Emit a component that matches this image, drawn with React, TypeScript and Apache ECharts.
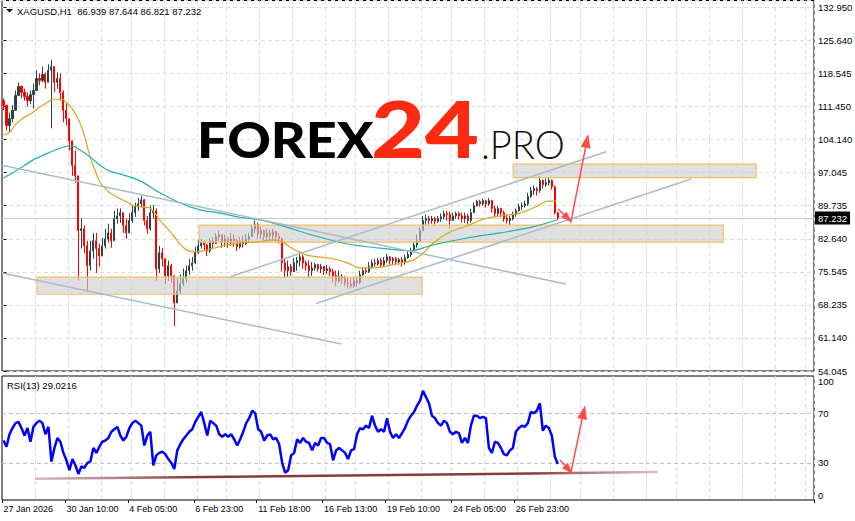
import React, { useEffect, useRef } from "react";
import * as echarts from "echarts";

// ---------- data ----------
const firstOpen = 112.7;
const closes = [
  111.7, 107.3, 108.8, 110.6, 113.8, 115.8, 114.5, 113.6, 112.7, 114.0,
  114.9, 117.5, 117.1, 118.4, 116.7, 119.3, 120.1, 116.7, 117.5, 114.5,
  110.6, 108.8, 104.0, 98.6, 96.4, 84.5, 84.9, 81.2, 76.9, 80.1,
  82.3, 80.6, 79.0, 81.2, 82.7, 84.0, 82.3, 87.1, 87.7, 88.4,
  85.6, 84.0, 86.7, 88.4, 89.7, 90.3, 91.2, 86.7, 84.9, 88.4,
  88.8, 76.2, 79.7, 78.4, 74.7, 76.9, 74.7, 68.8, 71.4, 73.0,
  74.1, 75.8, 76.9, 77.5, 79.7, 81.2, 81.9, 81.4, 80.1, 82.3,
  81.7, 83.2, 83.6, 81.9, 82.7, 81.9, 82.7, 82.3, 81.0, 82.3,
  81.7, 82.7, 83.2, 84.9, 85.8, 83.8, 84.5, 83.2, 84.0, 83.4,
  84.3, 83.2, 82.7, 77.5, 75.8, 76.7, 75.6, 77.5, 78.0, 78.8,
  77.5, 76.9, 75.8, 76.4, 77.1, 76.2, 76.7, 75.8, 76.2, 75.6,
  74.7, 73.6, 74.5, 74.1, 73.2, 72.9, 72.5, 73.6, 73.2, 74.9,
  75.8, 75.6, 76.7, 77.5, 77.3, 78.0, 77.1, 78.0, 78.8, 78.0,
  78.4, 77.7, 78.2, 77.7, 78.6, 79.3, 80.1, 81.4, 82.3, 84.5,
  86.7, 87.1, 86.7, 87.1, 86.5, 87.1, 87.5, 88.2, 88.0, 86.7,
  87.7, 88.2, 87.7, 87.1, 87.7, 86.7, 88.4, 89.9, 90.8, 90.3,
  91.0, 90.3, 91.0, 89.3, 88.2, 89.3, 88.4, 87.1, 86.7, 87.1,
  88.0, 88.8, 89.7, 89.9, 90.3, 91.9, 93.2, 93.6, 93.2, 95.4,
  94.5, 94.9, 95.4, 94.0, 88.4, 87.232,
];
const highs = [
  113.2, 111.7, 110.1, 111.7, 114.9, 116.7, 116.0, 115.3, 114.5, 114.9,
  116.4, 119.3, 118.6, 120.1, 118.8, 120.6, 121.6, 118.8, 118.8, 118.6,
  114.9, 112.1, 106.7, 102.3, 101.9, 95.8, 87.1, 85.6, 82.3, 82.3,
  84.0, 84.0, 81.7, 82.9, 84.9, 86.0, 84.9, 88.8, 89.3, 89.3,
  87.7, 87.1, 88.2, 89.9, 90.6, 91.6, 92.1, 91.4, 87.7, 89.9,
  90.1, 89.3, 81.2, 80.8, 78.4, 78.0, 77.3, 74.7, 74.1, 75.0,
  76.3, 76.9, 78.4, 78.8, 81.0, 82.5, 82.7, 82.5, 81.6, 82.9,
  83.1, 84.0, 84.5, 83.6, 83.6, 83.1, 84.0, 83.6, 82.7, 83.1,
  83.4, 83.8, 84.0, 85.8, 86.7, 86.2, 85.3, 84.7, 84.9, 84.7,
  84.9, 84.5, 84.0, 83.0, 78.4, 78.0, 77.3, 78.6, 78.8, 79.9,
  79.3, 78.0, 78.0, 77.7, 77.5, 77.3, 77.3, 76.9, 77.1, 76.7,
  76.2, 75.8, 75.8, 75.1, 74.7, 74.3, 74.1, 74.3, 74.5, 75.8,
  76.4, 76.4, 77.7, 78.2, 78.4, 78.6, 78.6, 78.8, 79.5, 79.0,
  78.8, 78.8, 78.6, 78.8, 79.3, 80.1, 80.8, 82.1, 83.6, 85.3,
  87.7, 88.0, 87.7, 87.7, 87.5, 87.7, 88.2, 88.8, 88.8, 88.6,
  88.4, 88.6, 88.6, 88.4, 88.4, 88.2, 89.3, 90.6, 91.2, 91.2,
  91.4, 91.2, 91.6, 91.2, 89.9, 89.9, 89.5, 88.8, 88.0, 87.7,
  88.6, 89.3, 90.3, 90.6, 91.0, 92.7, 94.0, 94.3, 94.0, 96.4,
  95.6, 95.8, 96.0, 95.6, 94.3, 88.6,
];
const lows = [
  110.6, 106.2, 105.8, 108.0, 110.6, 113.8, 113.2, 112.7, 111.4, 111.9,
  111.0, 115.3, 116.0, 116.7, 115.3, 117.5, 106.7, 114.5, 115.3, 112.7,
  108.0, 107.3, 101.9, 96.4, 94.9, 73.6, 80.6, 79.6, 71.4, 75.8,
  78.4, 75.3, 76.7, 79.0, 80.6, 81.9, 80.8, 82.7, 86.0, 86.2,
  84.0, 82.7, 84.0, 86.2, 87.5, 88.8, 89.5, 85.6, 83.8, 84.5,
  87.1, 73.6, 75.3, 76.7, 72.9, 73.6, 73.2, 63.8, 69.3, 70.8,
  72.5, 73.2, 74.9, 75.8, 77.3, 79.5, 80.6, 80.1, 79.0, 79.7,
  80.6, 81.9, 82.3, 80.8, 81.0, 80.8, 81.2, 81.0, 80.1, 80.6,
  80.8, 81.4, 81.9, 83.2, 84.0, 82.7, 82.7, 82.3, 82.5, 82.3,
  82.3, 82.1, 81.7, 75.6, 74.3, 74.5, 74.7, 75.6, 75.8, 76.7,
  76.2, 75.8, 74.3, 74.7, 75.8, 75.6, 75.3, 74.9, 75.1, 74.7,
  73.2, 72.5, 73.2, 72.9, 72.5, 71.9, 71.9, 72.1, 72.3, 72.9,
  74.7, 75.1, 75.3, 76.2, 76.7, 76.9, 76.4, 76.7, 77.5, 77.1,
  77.3, 77.1, 77.1, 76.7, 77.1, 78.4, 78.8, 79.9, 80.8, 81.9,
  84.9, 85.8, 85.8, 86.0, 85.8, 86.2, 86.4, 86.9, 86.7, 84.9,
  86.9, 87.1, 86.9, 86.2, 86.2, 85.8, 86.2, 88.4, 89.7, 89.7,
  89.9, 89.5, 89.9, 88.4, 87.5, 87.7, 87.5, 86.4, 86.0, 85.6,
  86.7, 87.5, 88.6, 89.0, 89.5, 89.9, 91.6, 92.3, 92.1, 92.7,
  93.6, 94.0, 94.3, 93.4, 88.0, 86.8,
];
const rsiValues = [
  48, 43, 53, 58, 62, 63, 58, 52, 58, 47,
  59, 62, 64, 62, 53, 59, 31, 42, 50, 47,
  38, 32, 24, 33, 28, 21, 27, 26, 30, 31,
  42, 38, 43, 47, 48, 50, 55, 57, 59, 52,
  48, 51, 58, 62, 64, 62, 60, 44, 52, 55,
  28, 36, 38, 39, 37, 33, 30, 25, 40, 45,
  49, 52, 55, 57, 63, 67, 71, 62, 52, 64,
  62, 60, 53, 51, 53, 51, 53, 49, 44, 49,
  55, 62, 66, 72, 70, 57, 55, 48, 52, 53,
  49, 50, 45, 30, 22, 24, 36, 38, 49, 46,
  50, 47, 46, 40, 46, 44, 50, 50, 46, 45,
  32, 40, 42, 40, 38, 33, 40, 41, 53, 58,
  57, 60, 58, 68, 60, 55, 57, 55, 66, 55,
  50, 53, 50, 54, 58, 64, 68, 71, 76, 80,
  88, 83, 78, 68, 66, 62, 60, 64, 62, 55,
  53, 55, 54, 46, 50, 46, 60, 68, 68, 66,
  67, 66, 42, 38, 47, 46, 42, 37, 36, 40,
  42, 55, 58, 60, 59, 62, 71, 70, 72, 78,
  56, 60, 58, 52, 35, 29.02,
];
// moving averages as [bar index, price]
const maFast = [
  [0, 105.2], [2.2, 105.9], [3.8, 107.4], [6.5, 108.9], [9.5, 110.0], [12.2, 111.3],
  [14.9, 112.4], [16.5, 113.0], [19.5, 113.0], [21.2, 112.2], [23.2, 110.7], [25.5, 107.9],
  [27.2, 104.6], [28.9, 100.5], [30.5, 97.7], [32.2, 95.0], [33.9, 93.7], [35.5, 92.7],
  [37.9, 91.8], [41.2, 90.7], [43.2, 90.0], [46.6, 89.6], [48.9, 89.4], [52.2, 86.8],
  [56.6, 83.5], [59.9, 80.9], [62.3, 80.0], [64.6, 79.9], [67.9, 80.3], [71.3, 80.9],
  [74.6, 81.4], [78.9, 81.8], [83.3, 82.0], [86.6, 82.2], [90.0, 82.5], [93.3, 82.0],
  [95.6, 80.9], [101.3, 79.2], [109.0, 78.5], [114.7, 77.5], [119.0, 76.4], [122.3, 76.4],
  [125.7, 76.6], [131.3, 77.3], [136.7, 78.1], [140.0, 79.6], [143.4, 81.8], [149.0, 84.2],
  [154.7, 85.5], [160.1, 87.0], [165.7, 87.7], [172.4, 88.3], [178.1, 89.8], [181.4, 90.9],
  [184.4, 90.9],
];
const maSlow = [
  [0, 95.9], [4.5, 97.6], [9.8, 99.8], [15.5, 101.5], [19.9, 102.6], [22.9, 102.9],
  [25.5, 102.0], [28.9, 100.5], [32.2, 98.7], [35.5, 97.4], [39.9, 96.6], [45.6, 95.3],
  [52.2, 92.7], [58.9, 90.5], [65.6, 89.0], [72.3, 88.3], [78.9, 87.4], [85.6, 86.8],
  [92.3, 85.7], [103.3, 83.5], [114.7, 81.6], [125.7, 80.7], [135.7, 80.1], [143.4, 81.4],
  [154.7, 82.9], [165.7, 84.0], [176.7, 85.3], [184.7, 86.8],
];
const priceTicks = [54.045, 61.14, 68.235, 75.545, 82.64, 89.735, 97.045, 104.14, 111.45, 118.545, 125.64, 132.95];
const rsiTicks = [0, 30, 70, 100];
const dateTickIdx = [0, 21, 42, 64, 85, 107, 128, 150, 171];
const dateTickLabels = [
  "27 Jan 2026", "30 Jan 10:00", "4 Feb 05:00", "6 Feb 23:00", "11 Feb 18:00",
  "16 Feb 13:00", "19 Feb 10:00", "24 Feb 05:00", "26 Feb 23:00",
];
const gridIdx = [11, 22, 33, 43, 54, 65, 75, 86, 97, 108, 118, 129, 140, 150, 161, 172, 183, 193, 204, 215, 225, 236, 247, 258, 268];
const slotCount = 271;
const lastPrice = 87.232;
// annotations (bar index, price / rsi)
const zones = [
  [[11.2, 74.4], [139.7, 70.7]],
  [[65.3, 85.7], [240.2, 82.0]],
  [[170.1, 98.95], [251.2, 96.0]],
];
const trendLines = [
  [[-0.5, 98.7], [187.7, 72.9]],
  [[-0.5, 75.3], [112.7, 59.9]],
  [[75.6, 74.5], [201.1, 101.6]],
  [[104.3, 68.7], [229.5, 95.7]],
];
const priceArrows = [
  [[185.1, 89.2], [188.3, 87.2]],
  [[189.3, 86.2], [194.7, 104.0]],
];
const rsiSupport = [[10.5, 17.1], [218.4, 22.5]];
const rsiArrows = [
  [[185.7, 32.2], [188.6, 24.6]],
  [[189.3, 21.5], [193.6, 70.9]],
];

const BULL = "#2b4545";
const BEAR = "#ff0000";
const GRIDC = "#dcdcdc";
const AXF = "Liberation Sans, Arial, sans-serif";

export default function App() {
  const ref = useRef<HTMLDivElement>(null);
  useEffect(() => {
    if (!ref.current) return;
    const chart = echarts.init(ref.current, null, { renderer: "svg" });
    const cats = Array.from({ length: slotCount }, (_, i) => String(i));
    const candleData = closes.map((c, i) => {
      const o = i === 0 ? firstOpen : closes[i - 1];
      return [o, c, Math.min(lows[i], o, c), Math.max(highs[i], o, c)];
    });
    const vSplit = (i: number) => gridIdx.indexOf(i) >= 0;
    const arrowData = (arr: number[][][], small: number[], big: number[]) =>
      arr.map((a, k) => [
        { coord: a[0], symbol: "none" },
        { coord: a[1], symbol: "triangle", symbolSize: k === 0 ? small : big },
      ]);
    const option: any = {
      animation: false,
      backgroundColor: "#ffffff",
      grid: [
        { left: 2, top: 0.5, width: 812, height: 370.5, show: true, borderColor: "#000", borderWidth: 1, outerBoundsMode: "none" },
        { left: 2, top: 376, width: 812, height: 124, show: true, borderColor: "#000", borderWidth: 1, outerBoundsMode: "none" },
      ],
      xAxis: [
        {
          type: "category", gridIndex: 0, data: cats, boundaryGap: true,
          axisLine: { show: false }, axisTick: { show: false }, axisLabel: { show: false },
          splitLine: { show: true, interval: vSplit, lineStyle: { color: GRIDC, type: [4, 3], width: 1 } },
        },
        { type: "value", gridIndex: 0, min: -0.5, max: slotCount - 0.5, show: false },
        {
          type: "category", gridIndex: 1, data: cats, boundaryGap: true,
          axisLine: { show: false },
          axisTick: { show: true, interval: (i: number) => dateTickIdx.indexOf(i) >= 0, length: 3, lineStyle: { color: "#000" } },
          axisLabel: {
            show: true, interval: (i: number) => dateTickIdx.indexOf(i) >= 0,
            formatter: (v: string) => {
              const k = dateTickIdx.indexOf(Number(v));
              return k >= 0 ? dateTickLabels[k] : "";
            },
            align: "left", margin: 4, color: "#000", fontSize: 9, fontFamily: AXF,
          },
          splitLine: { show: true, interval: vSplit, lineStyle: { color: GRIDC, type: [4, 3], width: 1 } },
        },
        { type: "value", gridIndex: 1, min: -0.5, max: slotCount - 0.5, show: false },
      ],
      yAxis: [
        {
          type: "value", gridIndex: 0, position: "right", min: 54.045, max: 134.43, interval: 7.1732, scale: true,
          axisLine: { show: false },
          axisTick: { show: true, length: 3, lineStyle: { color: "#000" } },
          axisLabel: {
            showMaxLabel: false, margin: 4, color: "#000", fontSize: 9.5, fontFamily: AXF,
            formatter: (v: number) => {
              let best = "";
              let d = 1e9;
              for (const t of priceTicks) {
                if (Math.abs(t - v) < d) { d = Math.abs(t - v); best = t.toFixed(3); }
              }
              return d < 0.5 ? best : "";
            },
          },
          splitLine: { show: true, lineStyle: { color: GRIDC, type: [4, 3], width: 1 } },
        },
        {
          type: "value", gridIndex: 1, position: "right", min: 0, max: 100, interval: 10,
          axisLine: { show: false }, axisTick: { show: false }, splitLine: { show: false },
          axisLabel: {
            margin: 4, color: "#000", fontSize: 9.5, fontFamily: AXF,
            verticalAlignMinLabel: "bottom", verticalAlignMaxLabel: "top",
            formatter: (v: number) => (rsiTicks.indexOf(v) >= 0 ? String(v) : ""),
          },
        },
      ],
      series: [
        {
          type: "candlestick", xAxisIndex: 0, yAxisIndex: 0, data: candleData, barWidth: 1.6,
          itemStyle: { color: BULL, color0: BEAR, borderColor: BULL, borderColor0: BEAR, borderWidth: 1 },
          markLine: {
            silent: true, symbol: "none", z: 1,
            lineStyle: { color: "#c8c8c8", type: "solid", width: 1 },
            label: {
              show: true, position: "end", distance: 1, formatter: () => lastPrice.toFixed(3),
              backgroundColor: "#000", color: "#fff", padding: [2, 3, 1, 3], fontSize: 9.5, fontFamily: AXF,
            },
            data: [{ yAxis: lastPrice }],
          },
        },
        {
          type: "line", xAxisIndex: 1, yAxisIndex: 0, data: maFast, showSymbol: false, smooth: 0.3, z: 3,
          lineStyle: { color: "#daa520", width: 1.2 },
        },
        {
          type: "line", xAxisIndex: 1, yAxisIndex: 0, data: maSlow, showSymbol: false, smooth: 0.3, z: 3,
          lineStyle: { color: "#20b2aa", width: 1.2 },
        },
        {
          type: "line", xAxisIndex: 1, yAxisIndex: 0, data: [], z: 3,
          markArea: {
            silent: true, z: 3,
            itemStyle: { color: "rgba(205,205,205,0.62)", borderColor: "#f2c064", borderWidth: 1.2 },
            data: zones.map((zn) => [{ coord: zn[0] }, { coord: zn[1] }]),
          },
        },
        ...trendLines.map((tl) => ({
          type: "line", xAxisIndex: 1, yAxisIndex: 0, data: tl, showSymbol: false, z: 4,
          lineStyle: { color: "#a9bbcb", width: 1.5 },
        })),
        {
          type: "line", xAxisIndex: 1, yAxisIndex: 0, data: [], z: 6,
          markLine: {
            silent: true, z: 6, symbol: ["none", "triangle"],
            lineStyle: { color: "#ff4d4d", width: 1.5, type: "solid" },
            label: { show: false },
            data: arrowData(priceArrows, [8, 11], [10, 14]),
          },
        },
        {
          type: "line", xAxisIndex: 2, yAxisIndex: 1, data: rsiValues, showSymbol: false, z: 3,
          lineStyle: { color: "#0000ff", width: 2.5 },
          markLine: {
            silent: true, symbol: "none", z: 1,
            lineStyle: { color: "#c0c0c0", type: [4, 3], width: 1 },
            label: { show: false },
            data: [{ yAxis: 30 }, { yAxis: 70 }],
          },
        },
        {
          type: "line", xAxisIndex: 3, yAxisIndex: 1, data: rsiSupport, showSymbol: false, z: 4,
          lineStyle: {
            width: 2.5,
            color: new echarts.graphic.LinearGradient(0, 0, 1, 0, [
              { offset: 0, color: "rgba(160,110,110,0.45)" },
              { offset: 0.25, color: "#8a3a3a" },
              { offset: 0.8, color: "#8a3a3a" },
              { offset: 1, color: "rgba(170,120,120,0.45)" },
            ]),
          },
        },
        {
          type: "line", xAxisIndex: 3, yAxisIndex: 1, data: [], z: 6,
          markLine: {
            silent: true, z: 6, symbol: ["none", "triangle"],
            lineStyle: { color: "#ff4d4d", width: 1.5, type: "solid" },
            label: { show: false },
            data: arrowData(rsiArrows, [8, 11], [10, 14]),
          },
        },
      ],
      graphic: [
        { type: "polygon", z: 20, shape: { points: [[6, 9], [13, 9], [9.5, 12.5]] }, style: { fill: "#000" } },
        {
          type: "text", z: 20, x: 17, y: 11,
          style: { text: "XAGUSD,H1  86.939 87.644 86.821 87.232", fill: "#000", fontSize: 9.5, fontFamily: AXF, align: "left", verticalAlign: "middle" },
        },
        {
          type: "text", z: 20, x: 7, y: 385,
          style: { text: "RSI(13) 29.0216", fill: "#000", fontSize: 9.5, fontFamily: AXF, align: "left", verticalAlign: "middle" },
        },
        {
          type: "text", z: 20, x: 197, y: 139.4, scaleX: 1.1,
          style: { text: "FOREX", fill: "#000", fontSize: 49, fontWeight: 900, fontFamily: "Lato", align: "left", verticalAlign: "middle" },
        },
        {
          type: "text", z: 20, x: 371, y: 127.7, scaleX: 1.18,
          style: { text: "24", fill: "#fb2a10", fontSize: 79, fontWeight: 900, fontFamily: "Lato", align: "left", verticalAlign: "middle" },
        },
        {
          type: "text", z: 20, x: 481, y: 142.7, scaleX: 0.95,
          style: { text: ".PRO", fill: "#111", fontSize: 40, fontWeight: 300, fontFamily: "Lato", align: "left", verticalAlign: "middle" },
        },
      ],
    };
    chart.setOption(option);
    return () => chart.dispose();
  }, []);
  return (
    <div
      ref={ref}
      style={{ position: "absolute", left: 0, top: 0, width: 855, height: 521, background: "#fff" }}
    />
  );
}
